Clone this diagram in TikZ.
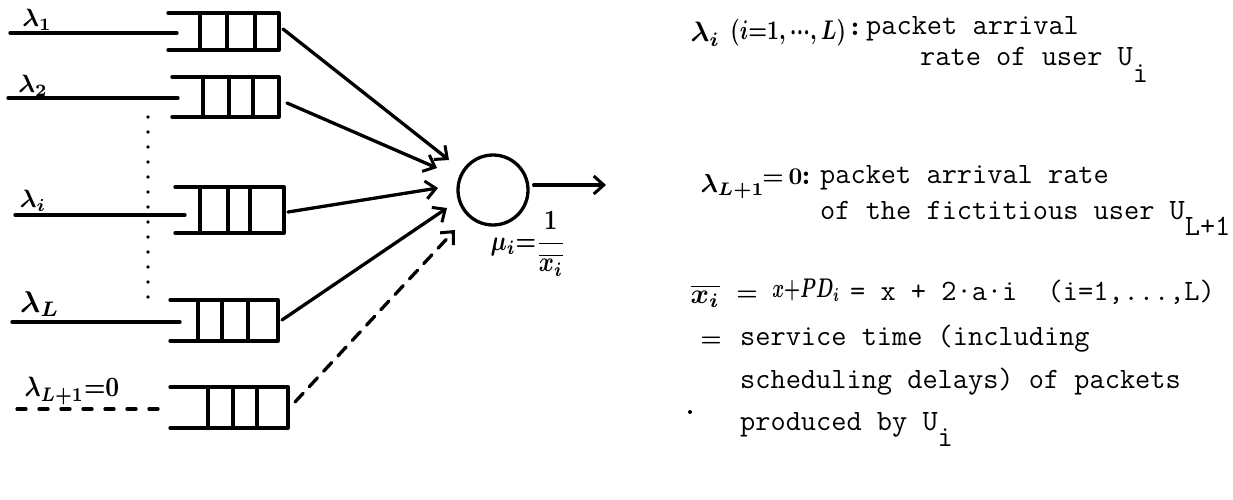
\documentclass[tikz,border=0pt]{standalone}
\usepackage{amsmath}
\usepackage{fontspec}
\usetikzlibrary{arrows.meta}
\tikzset{
  stroke/.style={line width=3.3pt, line cap=round, line join=round},
  arr/.style={stroke, -{Straight Barb[length=10pt,width=18pt,line width=3pt]}},
  hand/.style={font=\fontsize{10}{12}\selectfont\boldmath, inner sep=0pt},
  colon/.style={font=\fontsize{10}{12}\selectfont\bfseries, inner sep=0pt, anchor=base west, scale=2.8},
  tw/.style={font=\fontsize{29.5}{35}\selectfont\ttfamily, inner sep=0pt, anchor=base west},
  dotline/.style={line width=3.8pt, line cap=round, dash pattern=on 0pt off 15pt},
}
\newcommand\drawqueue[8]{%
  \draw[stroke] (#4,#2) -- (#8,#2) -- (#8,#3) -- (#4,#3);
  \draw[stroke] (#5,#2) -- (#5,#3) (#6,#2) -- (#6,#3) (#7,#2) -- (#7,#3);
}
\newcommand\Usub[1]{U\raisebox{-0.55em}{#1}}
\begin{document}
\begin{tikzpicture}[x=1pt,y=-1pt]
\useasboundingbox (0,0) rectangle (1233,500);
% queues
\drawqueue{q1}{13}{50}{168}{200}{227}{255}{279}
\drawqueue{q2}{77}{117}{172}{203}{229}{253}{279}
\drawqueue{qi}{187}{233}{175}{200}{228}{250}{284}
\drawqueue{qL}{300}{341}{170}{198}{222}{248}{278}
\drawqueue{qL1}{387}{428}{170}{208}{233}{257}{288}
% input lines
\coordinate (s1) at (10,33);  \coordinate (e1) at (177,33);
\coordinate (s2) at (8,98);   \coordinate (e2) at (178,98);
\coordinate (si) at (15,215); \coordinate (ei) at (185,215);
\coordinate (sL) at (12,322); \coordinate (eL) at (180,322);
\coordinate (sL1) at (17,409); \coordinate (eL1) at (168,409);
\draw[stroke] (s1) -- (e1);
\draw[stroke] (s2) -- (e2);
\draw[stroke] (si) -- (ei);
\draw[stroke] (sL) -- (eL);
\draw[stroke, dash pattern=on 9pt off 13pt] (sL1) -- (eL1);
% dotted vertical
\coordinate (d1) at (148,117); \coordinate (d2) at (148,307);
\draw[dotline] (d1) -- (d2);
% labels
\node[hand, scale=2.5] (l1) at (37,20) {$\lambda_1$};
\node[hand, scale=2.5] (l2) at (33,86) {$\lambda_2$};
\node[hand, scale=2.5] (li) at (33,201) {$\lambda_i$};
\node[hand, scale=3] (lL) at (40,304) {$\lambda_L$};
\node[hand, xscale=2.4, yscale=2.8] (lL1) at (72,391) {$\lambda_{L+1}{=}0$};
% server
\node[circle, draw, line width=3.3pt, minimum size=70pt, inner sep=0pt] (srv) at (493,190) {};
\node[hand, xscale=2.3, yscale=2.8] (mu) at (528,244) {$\mu_i{=}\dfrac{1}{\overline{x_i}}$};
% connectors
\coordinate (o1) at (283,29);  \coordinate (t1) at (449,160);
\coordinate (o2) at (287,103); \coordinate (t2) at (437,168);
\coordinate (oi) at (288,212); \coordinate (ti) at (438,188);
\coordinate (oL) at (282,320); \coordinate (tL) at (447,208);
\coordinate (oL1) at (295,402); \coordinate (tL1) at (455,230);
\coordinate (out) at (606,185);
\draw[arr] (o1) -- (t1);
\draw[arr] (o2) -- (t2);
\draw[arr] (oi) -- (ti);
\draw[arr] (oL) -- (tL);
\draw[arr, dash pattern=on 12pt off 9pt] (oL1) -- (tL1);
\draw[arr] (srv.east) ++(4,-5) coordinate (sout) -- (out);
% right text
\node[hand, anchor=base west, scale=2.8] (ra) at (690,42) {$\lambda_i$};
\node[hand, anchor=base west, xscale=2.1, yscale=2.7] (ra2) at (730,40) {$(i{=}1,{\cdot}{\cdot}{\cdot},L)$};
\node[colon] (ca) at (850,36) {:};
\node[tw] (ta) at (866,35) {packet arrival};
\node[tw] (tb) at (920,66) {rate of user \Usub{i}};
\node[hand, anchor=base west, scale=2.6] (rc) at (700,192) {$\lambda_{L+1}$};
\node[hand, anchor=base west, scale=2.4] (rc2) at (762,184) {${=}\,0$};
\node[colon] (cc) at (801,184) {:};
\node[tw] (tc) at (820,183) {packet arrival rate};
\node[tw] (td) at (820,219) {of the fictitious user \Usub{L+1}};
\node[hand, anchor=base west, scale=2.8] (re) at (690,303) {$\overline{x_i}$};
\node[hand, anchor=base west, scale=2.4] (re2) at (736,300) {$=$};
\node[hand, anchor=base west, xscale=1.8, yscale=2.7] (re3) at (772,297) {${x}{+}{P}{D}_i$};
\node[tw] (te) at (850,300) {= x + 2\textperiodcentered a\textperiodcentered i\ \ (i=1,...,L)};
\node[hand, anchor=base west, scale=2.4] (rf) at (700,346) {$=$};
\node[tw] (tf) at (740,345) {service time (including};
\node[tw] (tg) at (740,388) {scheduling delays) of packets};
\node[tw] (th) at (740,430) {produced by \Usub{i}};
\fill (690,412) circle (2pt);
\end{tikzpicture}
\end{document}
